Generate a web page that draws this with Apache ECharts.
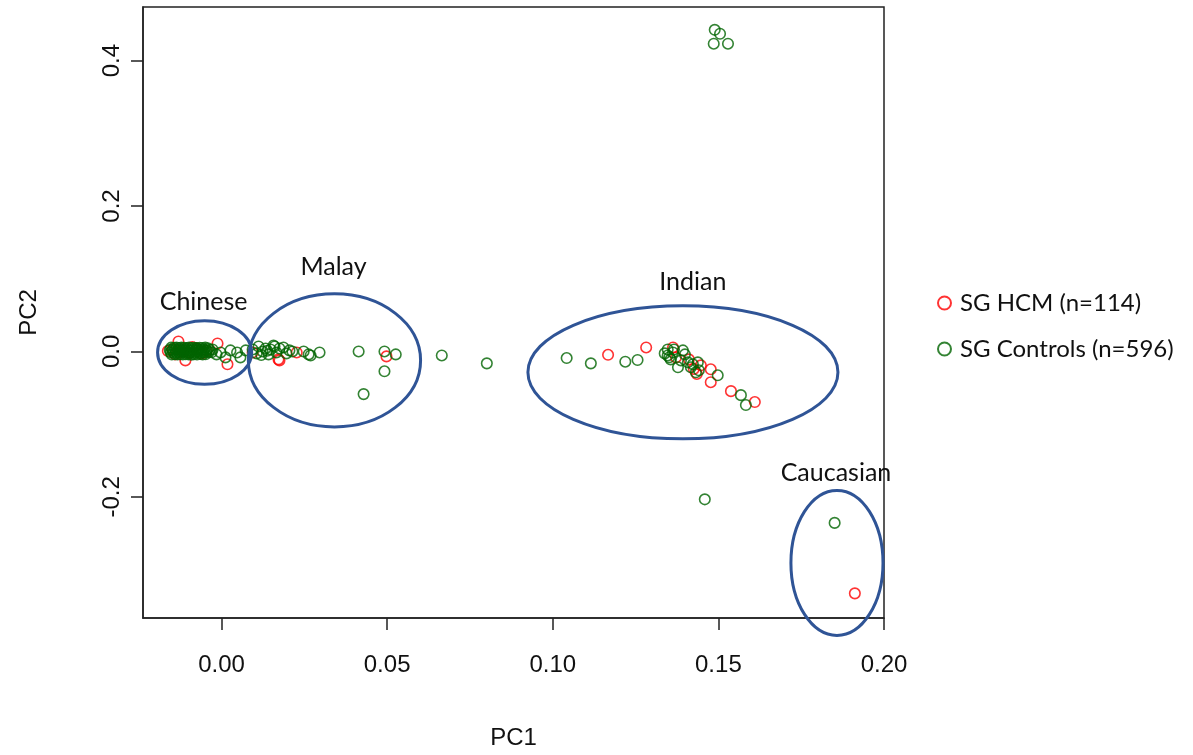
<!DOCTYPE html>
<html>
<head>
<meta charset="utf-8">
<script src="https://cdn.jsdelivr.net/npm/echarts@6/dist/echarts.min.js"></script>
<style>
html,body{margin:0;padding:0;background:#fff;}
#main{width:1193px;height:755px;}
</style>
</head>
<body>
<div id="main"></div>
<script>
// ---- data (PC1, PC2) ----
const seriesNames = ['SG HCM (n=114)', 'SG Controls (n=596)'];
const xTicks = [0, 0.05, 0.10, 0.15, 0.20];
const yTicks = [-0.2, 0.0, 0.2, 0.4];

const hcmPoints = [
  [-0.0130, 0.0137], [-0.0109, -0.0123], [-0.0012, 0.0109], [0.0018, -0.0177],
  [-0.0148, 0.0030], [-0.0121, 0.0010], [-0.0097, -0.0020], [-0.0075, 0.0040],
  [-0.0060, -0.0030], [-0.0140, -0.0040], [-0.0088, 0.0060], [-0.0045, 0.0010],
  [-0.0162, 0.0005],
  [0.0094, -0.0014], [0.0172, -0.0109], [0.0175, -0.0123], [0.0227, -0.0014],
  [0.0498, -0.0068],
  [0.1167, -0.0046], [0.1282, 0.0055],
  [0.1363, 0.0055], [0.1372, -0.0082], [0.1411, -0.0109], [0.1426, -0.0241],
  [0.1447, -0.0191], [0.1435, -0.0310], [0.1477, -0.0246], [0.1477, -0.0423],
  [0.1538, -0.0546], [0.1610, -0.0696],
  [0.1912, -0.3327]
];

const controlPoints = [
  // Chinese cluster
  [-0.0152, 0.0052], [-0.0143, 0.0049], [-0.0136, 0.0055], [-0.0128, 0.0047], [-0.0121, 0.0053],
  [-0.0113, 0.0050], [-0.0105, 0.0046], [-0.0098, 0.0054], [-0.0090, 0.0048], [-0.0082, 0.0051],
  [-0.0075, 0.0045], [-0.0066, 0.0050], [-0.0058, 0.0047], [-0.0049, 0.0052], [-0.0041, 0.0044],
  [-0.0156, 0.0021], [-0.0148, 0.0018], [-0.0139, 0.0024], [-0.0131, 0.0019], [-0.0124, 0.0022],
  [-0.0116, 0.0017], [-0.0109, 0.0023], [-0.0101, 0.0020], [-0.0093, 0.0016], [-0.0086, 0.0022],
  [-0.0078, 0.0019], [-0.0070, 0.0024], [-0.0061, 0.0018], [-0.0053, 0.0021], [-0.0045, 0.0017],
  [-0.0036, 0.0023],
  [-0.0154, -0.0011], [-0.0146, -0.0008], [-0.0137, -0.0013], [-0.0129, -0.0009], [-0.0120, -0.0012],
  [-0.0112, -0.0007], [-0.0104, -0.0010], [-0.0096, -0.0014], [-0.0088, -0.0009], [-0.0080, -0.0011],
  [-0.0072, -0.0006], [-0.0063, -0.0012], [-0.0055, -0.0010], [-0.0047, -0.0013], [-0.0038, -0.0008],
  [-0.0030, -0.0012],
  [-0.0150, -0.0041], [-0.0141, -0.0038], [-0.0133, -0.0043], [-0.0125, -0.0039], [-0.0117, -0.0042],
  [-0.0108, -0.0037], [-0.0100, -0.0040], [-0.0091, -0.0044], [-0.0083, -0.0038], [-0.0074, -0.0041],
  [-0.0065, -0.0036], [-0.0057, -0.0042], [-0.0048, -0.0039],
  [-0.0027, 0.0027], [-0.0015, -0.0041], [-0.0003, -0.0014], [0.0012, -0.0082], [0.0027, 0.0014],
  [0.0047, -0.0014], [0.0057, -0.0082], [0.0073, 0.0014],
  // Malay cluster
  [0.0094, 0.0027], [0.0106, -0.0027], [0.0112, 0.0068], [0.0124, 0.0000], [0.0133, 0.0041],
  [0.0142, -0.0041], [0.0148, 0.0027], [0.0157, 0.0082], [0.0166, -0.0014], [0.0175, 0.0041],
  [0.0187, 0.0055], [0.0196, -0.0027], [0.0205, 0.0014], [0.0214, 0.0000], [0.0160, 0.0068],
  [0.0120, -0.0050], [0.0138, 0.0010], [0.0248, 0.0000], [0.0263, -0.0041], [0.0269, -0.0055],
  [0.0296, -0.0014],
  [0.0414, 0.0000], [0.0492, 0.0000], [0.0526, -0.0041], [0.0492, -0.0273], [0.0429, -0.0587],
  [0.0665, -0.0055], [0.0801, -0.0164],
  // Indian cluster
  [0.1042, -0.0091], [0.1115, -0.0164], [0.1219, -0.0141], [0.1256, -0.0118],
  [0.1347, 0.0027], [0.1347, -0.0055], [0.1363, -0.0014], [0.1356, -0.0109], [0.1393, 0.0014],
  [0.1387, -0.0123], [0.1378, -0.0218], [0.1408, -0.0150], [0.1423, -0.0177], [0.1438, -0.0150],
  [0.1441, -0.0259], [0.1432, -0.0287], [0.1498, -0.0328], [0.1568, -0.0601], [0.1583, -0.0737],
  [0.1338, -0.0027], [0.1366, 0.0027], [0.1399, -0.0041], [0.1417, -0.0218], [0.1352, -0.0080],
  // outliers
  [0.1489, 0.4423], [0.1505, 0.4369], [0.1486, 0.4232], [0.1529, 0.4232],
  [0.1459, -0.2034], [0.1851, -0.2358]
];

// annotation ellipses (data units): centre x, centre y, radius x, radius y
const groupNames = ['Chinese', 'Malay', 'Indian', 'Caucasian'];
const ellipseCx = [-0.0051, 0.0341, 0.1393, 0.1858];
const ellipseCy = [-0.0014, -0.0123, -0.0287, -0.2908];
const ellipseRx = [0.0142, 0.0260, 0.0468, 0.0139];
const ellipseRy = [0.0437, 0.0915, 0.0915, 0.0997];
const labelX = [-0.0054, 0.0338, 0.1423, 0.1855];
const labelY = [0.068, 0.116, 0.095, -0.167];

const chart = echarts.init(document.getElementById('main'));
const axisFont = 'Liberation Sans, Arial, sans-serif';
const calibri = 'Lato, "Open Sans", sans-serif';

const option = {
  backgroundColor: '#fff',
  animation: false,
  grid: {left: 143, right: 309, top: 7, bottom: 133, show: true, borderColor: '#222', borderWidth: 1.5, containLabel: false},
  legend: {
    orient: 'vertical', left: 932, top: 286, itemGap: 22, itemWidth: 13, itemHeight: 13,
    textStyle: {fontFamily: calibri, fontSize: 24, color: '#111', padding: [0, 0, 0, 4]},
    data: [
      {name: seriesNames[0], icon: 'circle', itemStyle: {color: '#fff', borderColor: '#FF0000', borderWidth: 2}},
      {name: seriesNames[1], icon: 'circle', itemStyle: {color: '#fff', borderColor: '#006400', borderWidth: 2}}
    ]
  },
  xAxis: {
    type: 'value', min: -0.0237, max: 0.2,
    name: 'PC1', nameLocation: 'middle', nameGap: 108,
    nameTextStyle: {fontFamily: axisFont, fontSize: 24, color: '#111'},
    axisLine: {show: true, onZero: false, lineStyle: {color: '#222', width: 1.5}},
    axisTick: {show: true, length: 12, customValues: xTicks, lineStyle: {color: '#222', width: 1.5}},
    axisLabel: {customValues: xTicks, margin: 35, fontFamily: axisFont, fontSize: 24, color: '#111',
      formatter: v => v.toFixed(2)},
    splitLine: {show: false}
  },
  yAxis: {
    type: 'value', min: -0.3666, max: 0.4737,
    name: 'PC2', nameLocation: 'middle', nameGap: 102, nameRotate: 90,
    nameTextStyle: {fontFamily: axisFont, fontSize: 24, color: '#111'},
    axisLine: {show: true, onZero: false, lineStyle: {color: '#222', width: 1.5}},
    axisTick: {show: true, length: 12, customValues: yTicks, lineStyle: {color: '#222', width: 1.5}},
    axisLabel: {customValues: yTicks, margin: 19, rotate: 90, fontFamily: axisFont, fontSize: 24, color: '#111',
      formatter: v => v.toFixed(1)},
    splitLine: {show: false}
  },
  series: [
    {
      name: seriesNames[0], type: 'scatter', data: hcmPoints, symbol: 'circle', symbolSize: 10.5,
      itemStyle: {color: 'rgba(0,0,0,0)', borderColor: '#FF0000', borderWidth: 1.6}, z: 2
    },
    {
      name: seriesNames[1], type: 'scatter', data: controlPoints, symbol: 'circle', symbolSize: 10.5,
      itemStyle: {color: 'rgba(0,0,0,0)', borderColor: '#006400', borderWidth: 1.6}, z: 3
    }
  ]
};
chart.setOption(option);

function px(x, y) { return chart.convertToPixel({gridIndex: 0}, [x, y]); }
const graphics = [];
for (let i = 0; i < groupNames.length; i++) {
  const c = px(ellipseCx[i], ellipseCy[i]);
  const e = px(ellipseCx[i] + ellipseRx[i], ellipseCy[i] + ellipseRy[i]);
  graphics.push({
    type: 'ellipse', z: 10,
    shape: {cx: c[0], cy: c[1], rx: Math.abs(e[0] - c[0]), ry: Math.abs(e[1] - c[1])},
    style: {fill: null, stroke: '#2F5496', lineWidth: 3}
  });
  const l = px(labelX[i], labelY[i]);
  graphics.push({
    type: 'text', z: 11, x: l[0], y: l[1],
    style: {text: groupNames[i], fill: '#111', font: '25px ' + calibri, align: 'center', verticalAlign: 'middle'}
  });
}
chart.setOption({graphic: graphics});
</script>
</body>
</html>
